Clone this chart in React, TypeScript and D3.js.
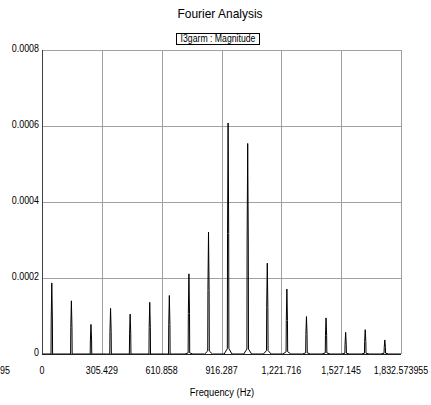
import React from 'react';
import * as d3 from 'd3';

// odd harmonics of 50 Hz
const harmonicFreqs = [50, 150, 250, 350, 450, 550, 650, 750, 850, 950, 1050, 1150, 1250, 1350, 1450, 1550, 1650, 1750];
const peakMags = [0.000187, 0.00014, 0.000078, 0.00012, 0.000105, 0.000136, 0.000154, 0.000211, 0.000321, 0.000608, 0.000554, 0.000239, 0.000171, 0.0000985, 0.000095, 0.000057, 0.000064, 0.000037];
const shoulderMags = [0.000092, 0.000069, 0.000037, 0.00006, 0.000053, 0.000069, 0.000077, 0.000107, 0.000167, 0.000317, 0.000292, 0.000123, 0.000088, 0.000051, 0.000048, 0.000026, 0.000033, 0.0000176];
const skirtMags = [0, 0, 0, 0, 0, 0, 0, 0.000003, 0.000008, 0.000014, 0.000013, 0.000009, 0.000006, 0.000003, 0.000003, 0.000002, 0.000002, 0.000002];

const xTicks = [0, 305.429, 610.858, 916.287, 1221.716, 1527.145, 1832.573955];
const xTickLabels = ['0', '305.429', '610.858', '916.287', '1,221.716', '1,527.145', '1,832.573955'];
const yTicks = [0, 0.0002, 0.0004, 0.0006, 0.0008];
const yTickLabels = ['0', '0.0002', '0.0004', '0.0006', '0.0008'];

const W = 431;
const H = 405;
const margin = { top: 50, right: 30, bottom: 51, left: 42 };
const font = '"Liberation Sans", Arial, sans-serif';

// spectrum bin geometry around each harmonic (Hz)
const binHz = 3;
const skirtHz = 4;
const baseHz = 20;

const Label = ({ x, y, size, sx, anchor, children }: any) => (
  <text
    transform={`translate(${x},${y}) scale(${sx},1)`}
    fontFamily={font}
    fontSize={size}
    textAnchor={anchor}
    dominantBaseline="central"
    fill="#000"
  >
    {children}
  </text>
);

export default function App() {
  const x = d3.scaleLinear().domain([0, 1832.573955]).range([margin.left, W - margin.right]);
  const y = d3.scaleLinear().domain([0, 0.0008]).range([H - margin.bottom, margin.top]);

  const pts: [number, number][] = [[0, 0]];
  harmonicFreqs.forEach((f, i) => {
    pts.push([f - baseHz, 0]);
    pts.push([f - skirtHz, skirtMags[i]]);
    pts.push([f - binHz, shoulderMags[i]]);
    pts.push([f, peakMags[i]]);
    pts.push([f + binHz, shoulderMags[i]]);
    pts.push([f + skirtHz, skirtMags[i]]);
    pts.push([f + baseHz, 0]);
  });
  pts.push([1832.573955, 0]);

  const line = d3.line<[number, number]>()
    .x(d => x(d[0]))
    .y(d => y(d[1]));

  const x0 = x(0), x1 = x(1832.573955), y0 = y(0), y1 = y(0.0008);

  return (
    <svg width={W} height={H} style={{ position: 'absolute', left: 0, top: 0, background: '#fff' }}>
      <rect width={W} height={H} fill="#fff" />

      <Label x={220} y={14} size={13} sx={0.92} anchor="middle">Fourier Analysis</Label>

      <rect x={176.5} y={33.5} width={83} height={11} fill="#fff" stroke="#000" />
      <Label x={218} y={39} size={10} sx={0.87} anchor="middle">I3garm : Magnitude</Label>

      {/* grid */}
      {xTicks.slice(1).map(t => (
        <line key={'gx' + t} x1={Math.round(x(t)) + 0.5} x2={Math.round(x(t)) + 0.5} y1={y1} y2={y0} stroke="#a0a0a0" />
      ))}
      {yTicks.slice(1).map(t => (
        <line key={'gy' + t} x1={x0} x2={x1} y1={Math.round(y(t)) + 0.5} y2={Math.round(y(t)) + 0.5} stroke="#a0a0a0" />
      ))}

      <path d={line(pts) || ''} fill="none" stroke="#000" strokeWidth={1} />

      {/* axes */}
      <line x1={Math.round(x0) + 0.5} x2={Math.round(x0) + 0.5} y1={y1} y2={y0} stroke="#404040" />
      <line x1={x0} x2={x1} y1={Math.round(y0) + 0.5} y2={Math.round(y0) + 0.5} stroke="#202020" />

      {yTicks.map((t, i) => (
        <Label key={'yl' + t} x={39} y={y(t) - 2} size={11} sx={0.81} anchor="end">{yTickLabels[i]}</Label>
      ))}
      {xTicks.map((t, i) => (
        <Label key={'xl' + t} x={x(t)} y={370} size={11} sx={0.81} anchor="middle">{xTickLabels[i]}</Label>
      ))}
      <Label x={0} y={370} size={11} sx={0.81} anchor="start">95</Label>

      <Label x={222} y={392} size={11} sx={0.85} anchor="middle">Frequency (Hz)</Label>
    </svg>
  );
}
